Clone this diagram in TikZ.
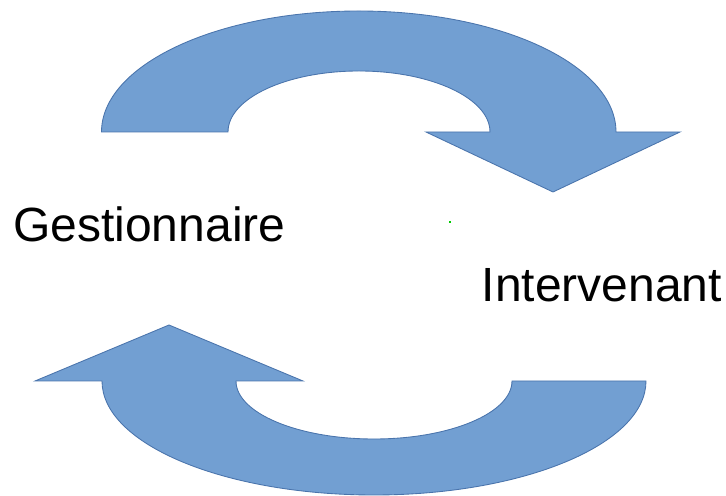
\documentclass[tikz,border=0pt]{standalone}
\usepackage{fontspec}
\setmainfont{Liberation Sans}
\definecolor{arrowfill}{HTML}{729FD2}
\definecolor{arrowline}{HTML}{4A74AC}
\tikzset{
  x=0.75pt,y=0.75pt,
  bigarrow/.style={fill=arrowfill,draw=arrowline,line width=0.65pt,line join=miter},
  lbl/.style={inner sep=0pt,anchor=base west,font=\fontsize{36pt}{40pt}\selectfont,text=black}
}
\begin{document}
\begin{tikzpicture}
\useasboundingbox (0,0) rectangle (726,496);
% top arrow
\draw[bigarrow] (101.5,364) arc[start angle=180,end angle=0,x radius=257.25*0.75pt,y radius=121*0.75pt]
  -- (680,364) -- (553,304) -- (426,364) -- (490,364)
  arc[start angle=0,end angle=180,x radius=131*0.75pt,y radius=61*0.75pt] -- cycle;
% bottom arrow
\draw[bigarrow] (646,115) arc[start angle=0,end angle=-180,x radius=272*0.75pt,y radius=114*0.75pt]
  -- (35,115) -- (169,171) -- (303,115) -- (236,115)
  arc[start angle=180,end angle=360,x radius=138*0.75pt,y radius=58*0.75pt] -- cycle;
\node[lbl] (g) at (13,254.5) {Gestionnaire};
\node[lbl] (i) at (481.5,194) {Intervenant};
\fill[green!80!black] (449.3,273.2) rectangle (450.7,274.6);
\end{tikzpicture}
\end{document}
